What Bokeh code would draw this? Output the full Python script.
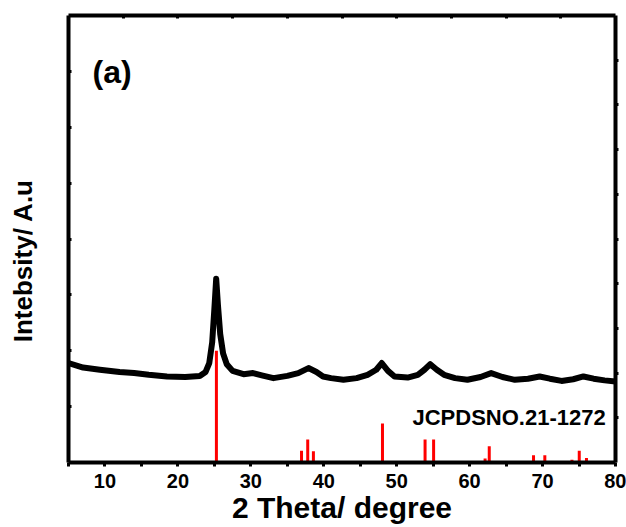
from bokeh.plotting import figure
from bokeh.models import Range1d, LinearAxis, FixedTicker, Label, CustomJSTickFormatter
from bokeh.embed import file_html
from bokeh.resources import INLINE

# ---- data ----
two_theta = [5, 7, 9.3, 12, 14, 16, 18.5, 21, 23, 23.8, 24.3, 24.7, 25.0, 25.25, 25.5, 25.8,
             26.2, 26.7, 27.5, 29, 30.3, 31.5, 33.1, 35, 36.5, 37.9, 39, 39.9, 41, 42.7,
             44.5, 46, 47.2, 47.95, 48.8, 49.7, 51.5, 52.9, 53.8, 54.6, 55.5, 56.5, 58,
             59.7, 61.5, 62.95, 64.5, 66.2, 68, 69.6, 71, 72.6, 74.2, 75.6, 77, 78.5, 80]
intensity = [1.78, 1.70, 1.66, 1.62, 1.60, 1.57, 1.54, 1.53, 1.55, 1.62, 1.78, 2.15, 2.75, 3.29,
             2.80, 2.30, 1.95, 1.76, 1.64, 1.58, 1.60, 1.56, 1.51, 1.55, 1.60, 1.69, 1.62,
             1.54, 1.51, 1.48, 1.51, 1.57, 1.66, 1.78, 1.64, 1.54, 1.52, 1.57, 1.66, 1.76,
             1.66, 1.57, 1.51, 1.48, 1.53, 1.60, 1.53, 1.48, 1.50, 1.54, 1.50, 1.46, 1.49,
             1.54, 1.50, 1.47, 1.45]

ref_pos = [25.28, 36.95, 37.80, 38.58, 48.05, 53.89, 55.06, 62.12, 62.69, 68.76, 70.31,
           74.03, 75.03, 76.02]
ref_h = [2.00, 0.21, 0.41, 0.20, 0.70, 0.41, 0.41, 0.07, 0.29, 0.13, 0.13, 0.05, 0.21, 0.08]

x_major_ticks = [10, 20, 30, 40, 50, 60, 70, 80]
x_minor_ticks = [5, 15, 25, 35, 45, 55, 65, 75]
left_ticks = [1, 2, 3, 4, 5, 6, 7]
right_ticks = [0.8, 1.6, 2.4, 3.2, 4.0, 4.8, 5.6, 6.4, 7.2]
top_ticks = [12.5, 20, 27.5, 35, 42.5, 50, 57.5, 65, 72.5]

FONT = "Liberation Sans"
NBSP = "\u00a0"

p = figure(width=626, height=527, output_backend="svg", toolbar_location=None,
           x_range=Range1d(5, 80), y_range=Range1d(0, 8),
           min_border_left=68, min_border_right=11, min_border_top=15, min_border_bottom=65)
p.outline_line_color = None
p.xgrid.grid_line_color = None
p.ygrid.grid_line_color = None
p.background_fill_color = "white"
p.border_fill_color = "white"

# bottom axis
xa = p.xaxis[0]
xa.ticker = FixedTicker(ticks=x_major_ticks, minor_ticks=x_minor_ticks)
xa.axis_line_width = 4
xa.axis_line_color = "black"
xa.major_tick_in = 0
xa.major_tick_out = 4
xa.minor_tick_in = 0
xa.minor_tick_out = 4
xa.major_tick_line_width = 3
xa.minor_tick_line_width = 3
xa.major_tick_line_color = "black"
xa.minor_tick_line_color = "black"
xa.major_label_text_font = FONT
xa.major_label_text_font_style = "bold"
xa.major_label_text_font_size = "20px"
xa.major_label_text_color = "black"
xa.major_label_standoff = 7
xa.axis_label = "2 Theta/ degree"
xa.axis_label_text_font = FONT
xa.axis_label_text_font_style = "bold"
xa.axis_label_text_font_size = "30px"
xa.axis_label_text_color = "black"
xa.axis_label_standoff = 0

# left axis (label shifted down along the axis by trailing no-break spaces)
ya = p.yaxis[0]
ya.ticker = FixedTicker(ticks=left_ticks)
ya.formatter = CustomJSTickFormatter(code="return ''")
ya.axis_line_width = 4
ya.axis_line_color = "black"
ya.major_tick_in = 3
ya.major_tick_out = 0
ya.major_tick_line_width = 3
ya.major_tick_line_color = "black"
ya.minor_tick_line_color = None
ya.major_label_standoff = 0
ya.axis_label = "Intebsity/ A.u" + NBSP * 6
ya.axis_label_text_font = FONT
ya.axis_label_text_font_style = "bold"
ya.axis_label_text_font_size = "26px"
ya.axis_label_text_color = "black"
ya.axis_label_standoff = 31

# right axis
ra = LinearAxis(ticker=FixedTicker(ticks=right_ticks),
                formatter=CustomJSTickFormatter(code="return ''"),
                axis_line_width=4, axis_line_color="black",
                major_tick_in=0, major_tick_out=3, major_tick_line_width=3,
                major_tick_line_color="black", minor_tick_line_color=None)
p.add_layout(ra, "right")

# top axis
ta = LinearAxis(ticker=FixedTicker(ticks=top_ticks),
                formatter=CustomJSTickFormatter(code="return ''"),
                axis_line_width=4, axis_line_color="black",
                major_tick_in=3, major_tick_out=0, major_tick_line_width=3,
                major_tick_line_color="black", minor_tick_line_color=None,
                major_label_standoff=0)
p.add_layout(ta, "above")

# reference sticks
p.segment(x0=ref_pos, y0=[0] * len(ref_pos), x1=ref_pos, y1=ref_h,
          line_color="#ff0000", line_width=3)

# measured pattern
p.line(two_theta, intensity, line_color="black", line_width=6, line_join="round")

# texts inside the frame
p.add_layout(Label(x=24, y=391, x_units="screen", y_units="screen", text="(a)",
                   text_font=FONT, text_font_style="bold", text_font_size="32px",
                   text_color="black", text_baseline="alphabetic", text_align="left"))
p.add_layout(Label(x=344, y=45, x_units="screen", y_units="screen", text="JCPDSNO.21-1272",
                   text_font=FONT, text_font_style="bold", text_font_size="22px",
                   text_color="black", text_baseline="alphabetic", text_align="left"))

open("out.html", "w").write(file_html(p, INLINE))
